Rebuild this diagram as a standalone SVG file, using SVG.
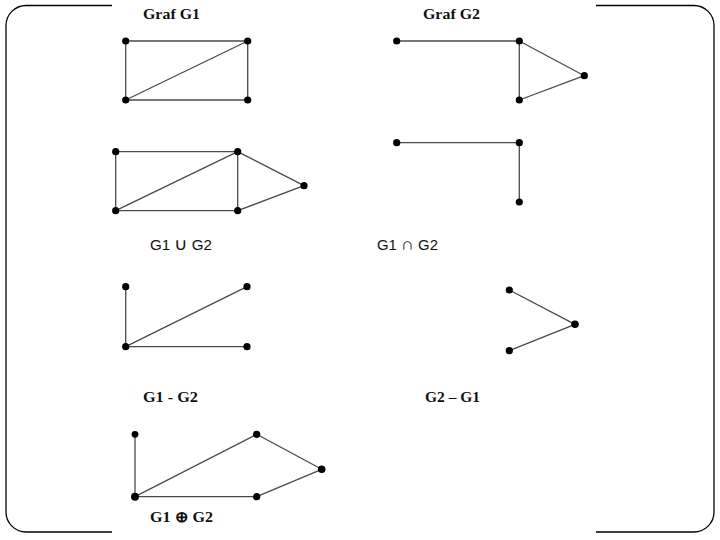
<svg xmlns="http://www.w3.org/2000/svg" width="720" height="540" viewBox="0 0 720 540">
<style>
.frame{fill:none;stroke:#000;stroke-width:1.3}
.e{stroke:#4a4a4a;stroke-width:1.3;fill:none}
.n{fill:#000}
.ts{font-family:"Liberation Serif","Times New Roman",serif;font-weight:bold;font-size:15px;fill:#111}
.tn{font-family:"Liberation Sans",Arial,sans-serif;font-size:14px;fill:#111}
.op{font-size:17px}
</style>
<rect width="720" height="540" fill="#fff"/>
<g id="frame">
<path class="frame" d="M112,5.5 H26 A20,20 0 0 0 6,25.5 V512 A20,20 0 0 0 26,532 H112"/>
<path class="frame" d="M596,5.5 H694 A20,20 0 0 1 714,25.5 V512 A20,20 0 0 1 694,532 H596"/>
</g>
<g id="connectors">
<line class="e" x1="125.7" y1="41" x2="247.7" y2="41"/>
<line class="e" x1="125.7" y1="41" x2="125.7" y2="100"/>
<line class="e" x1="125.7" y1="100" x2="247.7" y2="100"/>
<line class="e" x1="247.7" y1="41" x2="247.7" y2="100"/>
<line class="e" x1="125.7" y1="100" x2="247.7" y2="41"/>
<line class="e" x1="396.7" y1="41" x2="519.3" y2="41"/>
<line class="e" x1="519.3" y1="41" x2="519.3" y2="100"/>
<line class="e" x1="519.3" y1="41" x2="584.3" y2="75.7"/>
<line class="e" x1="584.3" y1="75.7" x2="519.3" y2="100"/>
<line class="e" x1="115.7" y1="151.7" x2="237.7" y2="151.7"/>
<line class="e" x1="115.7" y1="151.7" x2="115.7" y2="210.7"/>
<line class="e" x1="115.7" y1="210.7" x2="237.7" y2="210.7"/>
<line class="e" x1="237.7" y1="151.7" x2="237.7" y2="210.7"/>
<line class="e" x1="115.7" y1="210.7" x2="237.7" y2="151.7"/>
<line class="e" x1="237.7" y1="151.7" x2="304" y2="185.7"/>
<line class="e" x1="304" y1="185.7" x2="237.7" y2="210.7"/>
<line class="e" x1="396.7" y1="142.7" x2="519.3" y2="142.7"/>
<line class="e" x1="519.3" y1="142.7" x2="519.3" y2="202"/>
<line class="e" x1="125.7" y1="286.7" x2="125.7" y2="346.7"/>
<line class="e" x1="125.7" y1="346.7" x2="247" y2="286.7"/>
<line class="e" x1="125.7" y1="346.7" x2="247" y2="346.7"/>
<line class="e" x1="509.3" y1="290" x2="575" y2="324.3"/>
<line class="e" x1="575" y1="324.3" x2="509.3" y2="350.7"/>
<line class="e" x1="135" y1="434.3" x2="135" y2="496.7"/>
<line class="e" x1="135" y1="496.7" x2="256.7" y2="434.3"/>
<line class="e" x1="256.7" y1="434.3" x2="321.7" y2="469.3"/>
<line class="e" x1="321.7" y1="469.3" x2="256.7" y2="496.7"/>
<line class="e" x1="135" y1="496.7" x2="256.7" y2="496.7"/>
</g>
<g id="g1">
<text class="ts" x="143" y="19" textLength="57" lengthAdjust="spacingAndGlyphs">Graf G1</text>
<circle class="n" cx="125.7" cy="41" r="3.6"/>
<circle class="n" cx="247.7" cy="41" r="3.6"/>
<circle class="n" cx="125.7" cy="100" r="3.6"/>
<circle class="n" cx="247.7" cy="100" r="3.6"/>
</g>
<g id="g2">
<text class="ts" x="423" y="19" textLength="57" lengthAdjust="spacingAndGlyphs">Graf G2</text>
<circle class="n" cx="396.7" cy="41" r="3.6"/>
<circle class="n" cx="519.3" cy="41" r="3.6"/>
<circle class="n" cx="584.3" cy="75.7" r="3.6"/>
<circle class="n" cx="519.3" cy="100" r="3.6"/>
</g>
<g id="union">
<circle class="n" cx="115.7" cy="151.7" r="3.6"/>
<circle class="n" cx="237.7" cy="151.7" r="3.6"/>
<circle class="n" cx="304" cy="185.7" r="3.6"/>
<circle class="n" cx="115.7" cy="210.7" r="3.6"/>
<circle class="n" cx="237.7" cy="210.7" r="3.6"/>
<text class="tn" x="150" y="249.5" textLength="62" lengthAdjust="spacingAndGlyphs">G1 <tspan class="op">∪</tspan> G2</text>
</g>
<g id="intersection">
<circle class="n" cx="396.7" cy="142.7" r="3.6"/>
<circle class="n" cx="519.3" cy="142.7" r="3.6"/>
<circle class="n" cx="519.3" cy="202" r="3.6"/>
<text class="tn" x="377" y="249.5" textLength="61" lengthAdjust="spacingAndGlyphs">G1 <tspan class="op">∩</tspan> G2</text>
</g>
<g id="g1-minus-g2">
<circle class="n" cx="125.7" cy="286.7" r="3.6"/>
<circle class="n" cx="247" cy="286.7" r="3.6"/>
<circle class="n" cx="125.7" cy="346.7" r="3.6"/>
<circle class="n" cx="247" cy="346.7" r="3.6"/>
<text class="ts" x="143" y="402" textLength="55" lengthAdjust="spacingAndGlyphs">G1 - G2</text>
</g>
<g id="g2-minus-g1">
<circle class="n" cx="509.3" cy="290" r="3.6"/>
<circle class="n" cx="575" cy="324.3" r="3.8"/>
<circle class="n" cx="509.3" cy="350.7" r="3.6"/>
<text class="ts" x="425" y="402" textLength="55" lengthAdjust="spacingAndGlyphs">G2 – G1</text>
</g>
<g id="ring-sum">
<circle class="n" cx="135" cy="434.3" r="3.4"/>
<circle class="n" cx="256.7" cy="434.3" r="3.6"/>
<circle class="n" cx="321.7" cy="469.3" r="3.8"/>
<circle class="n" cx="135" cy="496.7" r="4"/>
<circle class="n" cx="256.7" cy="496.7" r="3.6"/>
<text class="ts" x="150" y="522" textLength="63" lengthAdjust="spacingAndGlyphs">G1 ⊕ G2</text>
</g>
</svg>
